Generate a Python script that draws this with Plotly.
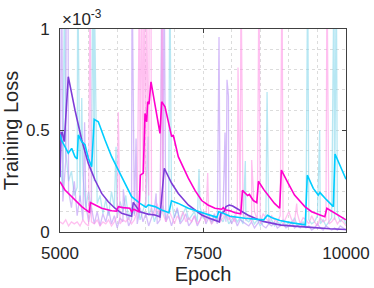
import plotly.graph_objects as go

# ---------------- data (loss values in units of 1e-3) ----------------
GRID = list(range(5000, 10001, 50))

purple_raw_base = [0.30, 0.15, 0.35, 0.20, 0.12, 0.25,
                   0.08, 0.18, 0.06, 0.14, 0.05, 0.12, 0.04, 0.10, 0.03, 0.09,
                   0.05, 0.11, 0.04, 0.08, 0.02, 0.07, 0.05, 0.10, 0.03, 0.06,
                   0.08, 0.04, 0.12, 0.05, 0.09, 0.03, 0.07, 0.11, 0.04, 0.06,
                   0.10, 0.05, 0.08, 0.03, 0.07, 0.12, 0.04, 0.06, 0.09, 0.03,
                   0.05, 0.08, 0.03, 0.06, 0.10, 0.04, 0.07, 0.05, 0.09, 0.04,
                   0.06, 0.10, 0.05, 0.08, 0.04, 0.07, 0.03, 0.06, 0.05, 0.04,
                   0.03, 0.05, 0.02, 0.04, 0.06, 0.03, 0.02, 0.04, 0.03, 0.05,
                   0.02, 0.03, 0.04, 0.02, 0.03, 0.05, 0.02, 0.03, 0.02, 0.04,
                   0.02, 0.03, 0.01, 0.02, 0.04, 0.02, 0.01, 0.03, 0.02, 0.01,
                   0.02, 0.01, 0.03, 0.02, 0.01]
purple_spike_epochs = [5030, 5110, 5140, 5430, 6107, 6260, 6330, 6680, 6780, 6820, 7780, 7885, 7920, 7945]
purple_spike_values = [1.3, 1.3, 1.2, 0.54, 0.21, 1.3, 0.46, 0.19, 1.3, 1.3, 0.96, 0.49, 0.75, 0.67]

cyan_raw_base = [0.35, 0.20, 0.40, 0.25, 0.30, 0.18,
                 0.22, 0.15, 0.28, 0.12, 0.20, 0.10, 0.25, 0.14, 0.18, 0.09,
                 0.16, 0.08, 0.20, 0.12, 0.07, 0.15, 0.10, 0.18, 0.06, 0.12,
                 0.09, 0.14, 0.06, 0.11, 0.15, 0.08, 0.12, 0.05, 0.10, 0.07,
                 0.13, 0.06, 0.10, 0.15, 0.07, 0.11, 0.05, 0.09, 0.12, 0.06,
                 0.08, 0.10, 0.05, 0.12, 0.07, 0.06, 0.09, 0.04, 0.08, 0.06,
                 0.07, 0.05, 0.09, 0.04, 0.06, 0.08, 0.05, 0.07, 0.04, 0.06,
                 0.05, 0.07, 0.04, 0.06, 0.03, 0.05, 0.08, 0.04, 0.06, 0.03,
                 0.05, 0.04, 0.06, 0.03, 0.05, 0.04, 0.07, 0.03, 0.04, 0.05,
                 0.03, 0.06, 0.04, 0.05, 0.08, 0.04, 0.06, 0.03, 0.05, 0.07,
                 0.06, 0.09, 0.05, 0.07, 0.04]
cyan_spike_epochs = [5080, 5310, 5380, 5570, 5600, 5980, 6540, 6920, 7430, 8240, 8620, 9330, 9540, 9790, 9830]
cyan_spike_values = [1.3, 1.3, 0.66, 1.3, 1.2, 0.42, 0.47, 1.3, 0.31, 0.35, 0.69, 1.3, 0.50, 1.3, 1.3]

pink_raw_base = [0.05, 0.04, 0.06, 0.03, 0.05, 0.04,
                 0.05, 0.03, 0.06, 0.04, 0.03, 0.05, 0.04, 0.06, 0.03, 0.05,
                 0.04, 0.06, 0.03, 0.05, 0.08, 0.04, 0.06, 0.05, 0.07, 0.04,
                 0.06, 0.10, 0.15, 0.20, 0.12, 0.18, 0.10, 0.08, 0.14, 0.06,
                 0.09, 0.05, 0.11, 0.07, 0.04, 0.08, 0.06, 0.10, 0.05, 0.07,
                 0.05, 0.08, 0.04, 0.06, 0.09, 0.05, 0.07, 0.04, 0.06, 0.08,
                 0.05, 0.07, 0.10, 0.06, 0.08, 0.05, 0.12, 0.07, 0.09, 0.06,
                 0.08, 0.05, 0.10, 0.06, 0.04, 0.09, 0.07, 0.05, 0.08, 0.06,
                 0.05, 0.08, 0.04, 0.07, 0.10, 0.06, 0.05, 0.09, 0.04, 0.07,
                 0.06, 0.04, 0.08, 0.05, 0.03, 0.07, 0.05, 0.06, 0.04, 0.05,
                 0.07, 0.04, 0.06, 0.05, 0.03]
pink_spike_epochs = [5524, 6019, 6390, 6430, 6470, 6510, 6560, 6590, 6790, 7582, 8112, 8164, 8351, 8479, 8881, 9138, 9668]
pink_spike_values = [1.3, 0.59, 1.3, 1.3, 1.3, 1.3, 1.3, 1.3, 1.3, 0.29, 0.81, 1.3, 0.355, 1.3, 1.3, 0.14, 1.3]

purple_smooth_epochs = [5000, 5020, 5040, 5075, 5145, 5262, 5380, 5495, 5612, 5729,
                        5844, 5961, 6078, 6224, 6253, 6281, 6398, 6538, 6660, 6748,
                        6823, 6952, 7068, 7243, 7360, 7477, 7587, 7709, 7739, 7785,
                        7814, 7867, 7902, 7960, 8019, 8106, 8281, 8461, 8571, 8863,
                        9160, 9388, 9720, 10000]
purple_smooth_values = [0.27, 0.49, 0.49, 0.445, 0.765, 0.60, 0.453, 0.338, 0.256, 0.19,
                        0.149, 0.117, 0.092, 0.08, 0.078, 0.146, 0.10, 0.088, 0.084, 0.075,
                        0.314, 0.24, 0.19, 0.133, 0.108, 0.084, 0.07, 0.059, 0.056, 0.05,
                        0.092, 0.10, 0.125, 0.133, 0.128, 0.112, 0.084, 0.062, 0.051, 0.034,
                        0.026, 0.023, 0.016, 0.012]

cyan_smooth_epochs = [5000, 5030, 5087, 5145, 5204, 5262, 5300, 5320, 5380, 5437,
                      5495, 5553, 5598, 5670, 5787, 5903, 6020, 6136, 6224, 6253,
                      6398, 6503, 6543, 6660, 6778, 6905, 6949, 7068, 7243, 7447,
                      7477, 7709, 7744, 7774, 7832, 7972, 8234, 8561, 8627, 8706,
                      8846, 9055, 9288, 9323, 9428, 9515, 9545, 9662, 9778, 9808,
                      9895, 10000]
cyan_smooth_values = [0.48, 0.45, 0.42, 0.388, 0.412, 0.371, 0.36, 0.478, 0.445, 0.43,
                      0.363, 0.322, 0.555, 0.543, 0.453, 0.371, 0.305, 0.24, 0.19, 0.174,
                      0.141, 0.122, 0.133, 0.125, 0.108, 0.095, 0.154, 0.141, 0.117, 0.10,
                      0.098, 0.075, 0.072, 0.10, 0.095, 0.078, 0.068, 0.06, 0.082, 0.07,
                      0.057, 0.045, 0.035, 0.28, 0.215, 0.182, 0.194, 0.158, 0.125, 0.384,
                      0.33, 0.26]

magenta_smooth_epochs = [5000, 5087, 5175, 5262, 5380, 5495, 5515, 5530, 5612, 5729,
                         5904, 5990, 6020, 6100, 6220, 6253, 6290, 6380, 6405, 6456,
                         6486, 6515, 6533, 6556, 6591, 6661, 6748, 6778, 6836, 6952,
                         6980, 7068, 7243, 7360, 7447, 7477, 7587, 7709, 7826, 7855,
                         7884, 7972, 8060, 8160, 8190, 8280, 8310, 8380, 8440, 8470,
                         8560, 8660, 8750, 8840, 8870, 8990, 9100, 9280, 9400, 9545,
                         9630, 9665, 9808, 10000]
magenta_smooth_values = [0.248, 0.207, 0.182, 0.158, 0.125, 0.10, 0.097, 0.145, 0.133, 0.117,
                         0.105, 0.103, 0.125, 0.12, 0.117, 0.10, 0.112, 0.10, 0.28, 0.29,
                         0.584, 0.543, 0.642, 0.63, 0.74, 0.634, 0.486, 0.642, 0.617, 0.47,
                         0.478, 0.371, 0.265, 0.205, 0.17, 0.155, 0.133, 0.117, 0.112, 0.12,
                         0.11, 0.105, 0.095, 0.09, 0.205, 0.18, 0.185, 0.155, 0.145, 0.25,
                         0.21, 0.175, 0.141, 0.117, 0.305, 0.24, 0.182, 0.125, 0.10, 0.084,
                         0.075, 0.117, 0.092, 0.06]

x_tick_vals = [5000, 7500, 10000]
x_tick_text = ["5000", "7500", "10000"]
y_tick_vals = [0, 0.5, 1]
y_tick_text = ["0", "0.5", "1"]


def merge(base, spike_x, spike_y):
    pts = sorted(list(zip(GRID, base)) + list(zip(spike_x, spike_y)))
    return [p[0] for p in pts], [p[1] for p in pts]


FONT = "Liberation Sans, Arial, Helvetica, sans-serif"
fig = go.Figure()

raw = [
    (cyan_raw_base, cyan_spike_epochs, cyan_spike_values, "rgba(135,215,235,0.6)"),
    (purple_raw_base, purple_spike_epochs, purple_spike_values, "rgba(185,145,245,0.6)"),
    (pink_raw_base, pink_spike_epochs, pink_spike_values, "rgba(255,150,230,0.6)"),
]
for base, sx, sy, col in raw:
    xs, ys = merge(base, sx, sy)
    fig.add_trace(go.Scatter(x=xs, y=ys, mode="lines",
                             line=dict(color=col, width=1.3), hoverinfo="skip"))

smooth = [
    (purple_smooth_epochs, purple_smooth_values, "rgb(125,60,215)"),
    (cyan_smooth_epochs, cyan_smooth_values, "rgb(0,205,255)"),
    (magenta_smooth_epochs, magenta_smooth_values, "rgb(255,0,205)"),
]
for xs, ys, col in smooth:
    fig.add_trace(go.Scatter(x=xs, y=ys, mode="lines",
                             line=dict(color=col, width=1.6)))

GRIDCOL = "#dcdcdc"
axis_common = dict(
    showline=True, linecolor="#404040", linewidth=1, mirror="ticks",
    ticks="inside", ticklen=4, tickcolor="#404040",
    showgrid=True, gridcolor=GRIDCOL, griddash="dot", gridwidth=1,
    zeroline=False, automargin=False, ticklabelstandoff=6,
    tickfont=dict(family=FONT, size=17, color="#262626"),
)

fig.update_layout(
    width=374, height=288,
    margin=dict(l=60, r=28, t=29, b=56),
    paper_bgcolor="white", plot_bgcolor="white",
    showlegend=False,
    font=dict(family=FONT, color="#262626"),
    xaxis=dict(range=[5000, 10000], tickvals=x_tick_vals, ticktext=x_tick_text,
               minor=dict(dtick=500, showgrid=True, gridcolor=GRIDCOL, griddash="dot"),
               title=dict(text="Epoch", font=dict(family=FONT, size=20, color="#262626"), standoff=4),
               **axis_common),
    yaxis=dict(range=[0, 1], tickvals=y_tick_vals, ticktext=y_tick_text,
               minor=dict(dtick=0.1, showgrid=True, gridcolor=GRIDCOL, griddash="dot"),
               title=dict(text="Training Loss", font=dict(family=FONT, size=20, color="#262626"), standoff=4),
               **axis_common),
    annotations=[dict(xref="paper", yref="paper", x=0, y=1, xanchor="left", yanchor="bottom",
                      text="×10<sup>-3</sup>", showarrow=False, yshift=-2,
                      font=dict(family=FONT, size=17, color="#262626"))],
)

fig.write_html("out.html", config={"displayModeBar": False},
               post_script="document.body.style.margin='0';document.body.style.overflow='hidden';")
